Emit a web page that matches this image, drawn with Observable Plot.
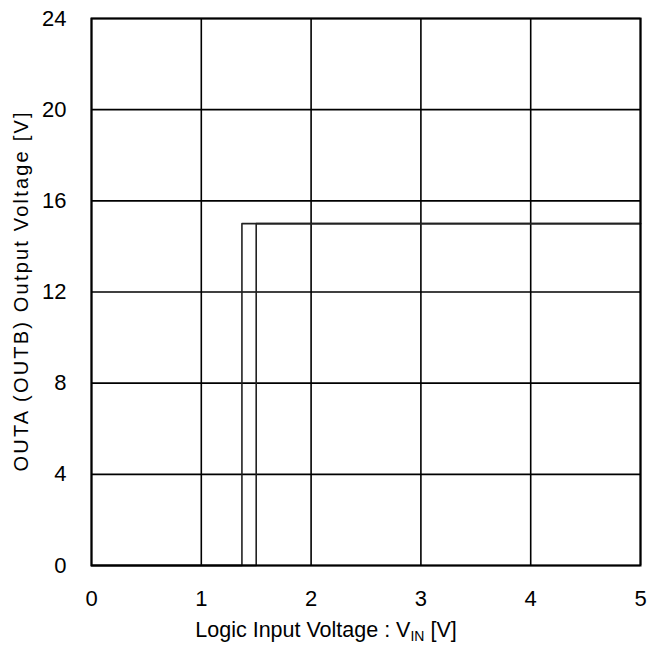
<!DOCTYPE html>
<html>
<head>
<meta charset="utf-8">
<script src="https://cdn.jsdelivr.net/npm/d3@7"></script>
<script src="https://cdn.jsdelivr.net/npm/@observablehq/plot@0.6"></script>
<style>
  html, body { margin: 0; padding: 0; background: #fff; }
  svg { display: block; }
</style>
</head>
<body>
<div id="chart"></div>
<script>
// Logic input voltage (V) where each output switches, and output level (V)
const vinA = [0, 1.37, 5];
const outA = [0, 15, 15];
const vinB = [0, 1.50, 5];
const outB = [0, 15, 15];

const xTicks = [0, 1, 2, 3, 4, 5];
const yTicks = [0, 4, 8, 12, 16, 20, 24];

const xLabel = "Logic Input Voltage : V";
const xLabelSub = "IN";
const xLabelTail = " [V]";
const yLabel = "OUTA (OUTB) Output Voltage [V]";

const seriesA = vinA.map((v, i) => ({vin: v, out: outA[i]}));
const seriesB = vinB.map((v, i) => ({vin: v, out: outB[i]}));

const font = "Liberation Sans, Arial, sans-serif";

const plot = Plot.plot({
  width: 660,
  height: 647,
  marginLeft: 91,
  marginRight: 20,
  marginTop: 18,
  marginBottom: 82,
  style: {fontFamily: font, fontSize: "22px", color: "#000", background: "#fff"},
  x: {domain: [0, 5], ticks: xTicks, tickFormat: "d", tickSize: 0, tickPadding: 25, label: null},
  y: {domain: [0, 24], ticks: yTicks, tickFormat: "d", tickSize: 0, tickPadding: 25, label: null},
  marks: [
    Plot.ruleX(xTicks, {stroke: "#000", strokeWidth: 1.6}),
    Plot.ruleY(yTicks, {stroke: "#000", strokeWidth: 1.6}),
    Plot.line(seriesA, {x: "vin", y: "out", curve: "step-after", stroke: "#222", strokeWidth: 1.6}),
    Plot.line(seriesB, {x: "vin", y: "out", curve: "step-after", stroke: "#222", strokeWidth: 1.6}),
    Plot.frame({stroke: "#000", strokeWidth: 2})
  ]
});

document.getElementById("chart").appendChild(plot);

// Axis titles, with the subscript on V_IN
const svg = d3.select(plot);
const xt = svg.append("text")
  .attr("x", 326).attr("y", 637)
  .attr("text-anchor", "middle")
  .attr("font-family", font).attr("font-size", 21.5).attr("fill", "#000");
xt.append("tspan").text(xLabel);
xt.append("tspan").attr("font-size", 14).attr("dy", 4).text(xLabelSub);
xt.append("tspan").attr("dy", -4).text(xLabelTail);

svg.append("text")
  .attr("transform", "translate(28,292) rotate(-90)")
  .attr("text-anchor", "middle")
  .attr("font-family", font).attr("font-size", 20).attr("fill", "#000")
  .attr("textLength", 359).attr("lengthAdjust", "spacing")
  .text(yLabel);
</script>
</body>
</html>
